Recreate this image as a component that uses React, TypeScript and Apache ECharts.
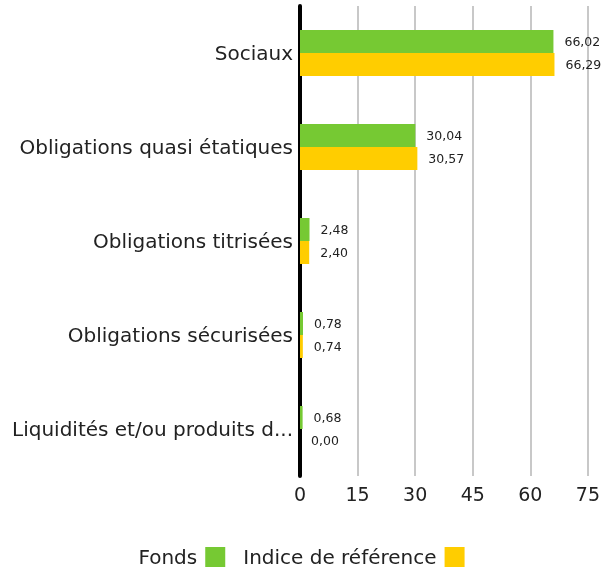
import React, { useEffect, useRef } from "react";
import * as echarts from "echarts";

const categories = [
  "Sociaux",
  "Obligations quasi étatiques",
  "Obligations titrisées",
  "Obligations sécurisées",
  "Liquidités et/ou produits dérivés",
];
const fondsValues = [66.02, 30.04, 2.48, 0.78, 0.68];
const indiceValues = [66.29, 30.57, 2.4, 0.74, 0.0];
const xTicks = { min: 0, max: 75, interval: 15 };

const FONT = "DejaVu Sans";

export default function App() {
  const ref = useRef<HTMLDivElement>(null);
  useEffect(() => {
    if (!ref.current) return;
    const chart = echarts.init(ref.current, undefined, { renderer: "svg" });
    const label = {
      show: true,
      position: "right" as const,
      distance: 11,
      color: "#222",
      fontSize: 12.5,
      fontFamily: FONT,
      formatter: (p: any) => Number(p.value).toFixed(2).replace(".", ","),
    };
    chart.setOption({
      animation: false,
      textStyle: { fontFamily: FONT },
      grid: { left: 300, right: 13, top: 6, bottom: 95, containLabel: false },
      legend: {
        top: 542,
        left: "center",
        align: "right",
        itemWidth: 20,
        itemHeight: 20,
        itemGap: 18,
        icon: "rect",
        textStyle: {
          fontSize: 20,
          color: "#222",
          fontFamily: FONT,
          padding: [0, 3, 0, 0],
        },
        data: ["Fonds", "Indice de référence"],
      },
      xAxis: {
        type: "value",
        min: xTicks.min,
        max: xTicks.max,
        interval: xTicks.interval,
        axisLine: { show: false },
        axisTick: { show: false },
        axisLabel: { fontSize: 19, color: "#222", margin: 8, fontFamily: FONT },
        splitLine: { show: true, lineStyle: { color: "#c8c8c8", width: 2 } },
      },
      yAxis: {
        type: "category",
        inverse: true,
        data: categories,
        axisLine: { show: true, lineStyle: { color: "#000", width: 4 } },
        axisTick: { show: false },
        axisLabel: {
          fontSize: 20,
          color: "#222",
          margin: 7,
          fontFamily: FONT,
          width: 286,
          overflow: "truncate",
          ellipsis: "...",
        },
      },
      series: [
        {
          name: "Fonds",
          type: "bar",
          data: fondsValues,
          barWidth: 23,
          barGap: "0%",
          itemStyle: { color: "#76c933" },
          label,
        },
        {
          name: "Indice de référence",
          type: "bar",
          data: indiceValues,
          barWidth: 23,
          barGap: "0%",
          itemStyle: { color: "#ffcd00" },
          label,
        },
      ],
    });
    return () => chart.dispose();
  }, []);
  return (
    <div
      ref={ref}
      style={{ position: "fixed", left: 0, top: 0, width: 603, height: 571 }}
    />
  );
}
